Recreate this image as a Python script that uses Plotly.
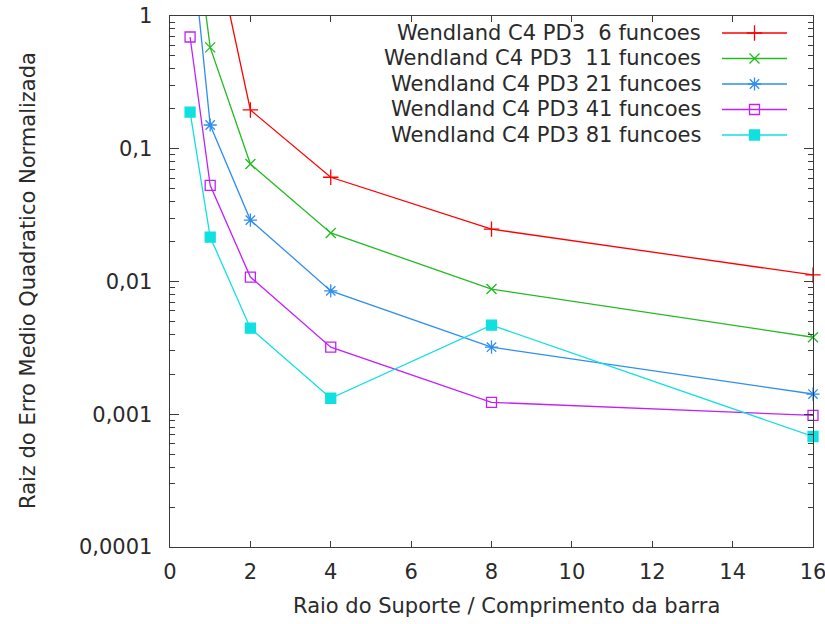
import plotly.graph_objects as go

# ---- data ----
x_vals = [0.5, 1, 2, 4, 8, 16]
f6 = [50.0, 5.0, 0.196, 0.061, 0.0248, 0.0112]
f11 = [8.6, 0.58, 0.0767, 0.0232, 0.00877, 0.0038]
f21 = [4.7, 0.151, 0.029, 0.0085, 0.0032, 0.00142]
f41 = [0.695, 0.053, 0.0108, 0.0032, 0.00123, 0.00098]
f81 = [0.189, 0.0216, 0.00445, 0.00132, 0.00469, 0.00068]

names = ["Wendland C4 PD3\u00a0\u00a06 funcoes",
         "Wendland C4 PD3\u00a0\u00a011 funcoes",
         "Wendland C4 PD3 21 funcoes",
         "Wendland C4 PD3 41 funcoes",
         "Wendland C4 PD3 81 funcoes"]
series = [f6, f11, f21, f41, f81]
colors = ["#ff0000", "#22bb22", "#2e8ef0", "#c020ff", "#11e0e0"]
symbols = ["cross-thin-open", "x-thin-open", "asterisk-open", "square-open", "square"]
sizes = [11, 10, 11, 10, 10]

y_tickvals = [1e-4, 1e-3, 1e-2, 1e-1, 1]
y_ticktext = ["0,0001", "0,001", "0,01", "0,1", "1"]
x_tickvals = [0, 2, 4, 6, 8, 10, 12, 14, 16]

minor_vals = [k * 10 ** e for e in range(-4, 0) for k in range(2, 10)]

FONT = "DejaVu Sans"
FS = 21
TXT = "#2a2a2a"
AX = "#3a3a3a"

W, H = 825, 624
L, R, T, B = 170, 813, 16, 547          # plot-area edges in page pixels


def px(xp):
    return (xp - L) / (R - L)


def py(yp):
    return (B - yp) / (B - T)


fig = go.Figure()
for name, ys, c, s, sz in zip(names, series, colors, symbols, sizes):
    fig.add_trace(go.Scatter(
        x=x_vals, y=ys, mode="lines+markers", name=name, showlegend=False,
        line=dict(color=c, width=1.3),
        marker=dict(symbol=s, size=sz, color=c, line=dict(color=c, width=1.3)),
        cliponaxis=False,
    ))

# legend drawn gnuplot-style (text on left, sample on right) in a pixel-space overlay axis
row_y = [33, 58.5, 84, 109.5, 135]
for name, c, s, sz, ry in zip(names, colors, symbols, sizes, row_y):
    fig.add_trace(go.Scatter(
        x=[722, 787], y=[ry, ry], mode="lines", xaxis="x2", yaxis="y2",
        showlegend=False, line=dict(color=c, width=1.3), hoverinfo="skip"))
    fig.add_trace(go.Scatter(
        x=[754.5], y=[ry], mode="markers", xaxis="x2", yaxis="y2",
        showlegend=False, hoverinfo="skip",
        marker=dict(symbol=s, size=sz, color=c, line=dict(color=c, width=1.3))))
    fig.add_annotation(x=px(703), y=py(ry), xref="paper", yref="paper", text=name,
                       showarrow=False, xanchor="right", yanchor="middle",
                       font=dict(family=FONT, size=FS, color=TXT))

# axis titles
fig.add_annotation(x=px(506), y=py(606), xref="paper", yref="paper",
                   text="Raio do Suporte / Comprimento da barra", showarrow=False,
                   xanchor="center", yanchor="middle",
                   font=dict(family=FONT, size=FS, color=TXT))
fig.add_annotation(x=px(28), y=py(281), xref="paper", yref="paper",
                   text="Raiz do Erro Medio Quadratico Normalizada", showarrow=False,
                   textangle=-90, xanchor="center", yanchor="middle",
                   font=dict(family=FONT, size=FS, color=TXT))

fig.update_layout(
    width=W, height=H,
    margin=dict(l=L, r=W - R, t=T, b=H - B, autoexpand=False),
    paper_bgcolor="white", plot_bgcolor="white",
    font=dict(family=FONT, size=FS, color=TXT),
    xaxis=dict(
        range=[0, 16], tickvals=x_tickvals, ticks="inside", ticklen=6,
        tickcolor=AX, showline=True, linecolor=AX, linewidth=1.4, mirror="allticks",
        showgrid=False, zeroline=False, tickfont=dict(size=FS, color=TXT),
        automargin=False, ticklabelstandoff=5, ticklabeloverflow="allow",
    ),
    yaxis=dict(
        type="log", range=[-4, 0], tickvals=y_tickvals, ticktext=y_ticktext,
        ticks="inside", ticklen=9, tickcolor=AX, showline=True, linecolor=AX,
        linewidth=1.4, mirror="allticks", showgrid=False, zeroline=False,
        tickfont=dict(size=FS, color=TXT), automargin=False, ticklabelstandoff=12,
        ticklabeloverflow="allow",
        minor=dict(tickvals=minor_vals, ticks="inside", ticklen=5, tickcolor=AX,
                   showgrid=False),
    ),
    xaxis2=dict(range=[L, R], overlaying="x", anchor="y2", visible=False,
                fixedrange=True, automargin=False),
    yaxis2=dict(range=[B, T], overlaying="y", anchor="x2", visible=False,
                fixedrange=True, automargin=False),
    hovermode=False,
)

fig.write_html("out.html", config={"displayModeBar": False, "staticPlot": True})

# remove the default 8px body margin so the 825x624 figure fills the window exactly
with open("out.html", "r", encoding="utf-8") as fh:
    html = fh.read()
html = html.replace("<head>", "<head><style>html,body{margin:0;padding:0;overflow:hidden;}</style>", 1)
with open("out.html", "w", encoding="utf-8") as fh:
    fh.write(html)
